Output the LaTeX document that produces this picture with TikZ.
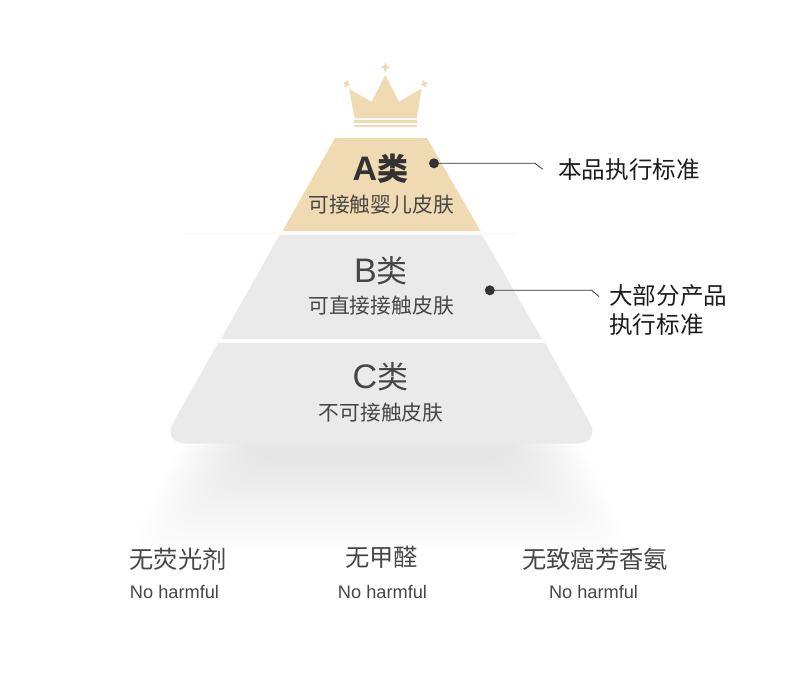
\documentclass[tikz,border=0pt]{standalone}
\usepackage{fontspec}
\setmainfont{Noto Sans CJK SC}
\newfontfamily\latinf{Liberation Sans}
\newfontfamily\latinb{Liberation Sans}[BoldFont={Liberation Sans Bold}]
\definecolor{gold}{HTML}{F0DAB2}
\definecolor{tier}{HTML}{EAEAEA}
\definecolor{ink}{HTML}{464646}
\definecolor{dark}{HTML}{333333}
\definecolor{inkk}{HTML}{1C1C1C}
\tikzset{
  x=1pt,y=-1pt,
  txt/.style={inner sep=0pt,anchor=center,text=ink},
  titlelab/.style={txt,font=\fontsize{31}{32}\selectfont},
  sublab/.style={txt,font=\fontsize{20.8}{24}\selectfont},
  sidelab/.style={txt,text=inkk,anchor=west,font=\fontsize{23.6}{29}\selectfont,align=left},
  botlab/.style={txt,font=\fontsize{24.3}{28}\selectfont},
  enlab/.style={txt,font=\latinf\fontsize{18.2}{22}\selectfont},
  dotm/.style={circle,fill=dark,draw=none,minimum size=10pt,inner sep=0pt},
  leader/.style={draw=dark,line width=0.8pt}
}
\newcommand{\sparkle}[5]{\fill[gold,shift={(#1,#2)},rotate=#5] (0,-#3) -- (#4,-#4) -- (#3*0.88,0) -- (#4,#4) -- (0,#3) -- (-#4,#4) -- (-#3*0.88,0) -- (-#4,-#4) -- cycle;}
\begin{document}
\begin{tikzpicture}
\useasboundingbox[fill=white] (0,0) rectangle (790,673);
% soft shadow
\foreach \i in {0,...,24}{
  \pgfmathsetmacro{\t}{\i/24}
  \pgfmathsetmacro{\lx}{128+\t*122}
  \pgfmathsetmacro{\rx}{634-\t*122}
  \pgfmathsetmacro{\tlx}{185+\t*65}
  \pgfmathsetmacro{\trx}{577-\t*65}
  \pgfmathsetmacro{\by}{552-\t*90}
  \fill[black,opacity=0.0037,rounded corners=30pt] (\tlx,430) -- (\trx,430) -- (\rx,\by) -- (\lx,\by) -- cycle;
}
% faint divider
\fill[gold,opacity=0.1] (183,232) rectangle (516,235);
% tiers
\fill[gold] (335,138) -- (427,138) -- (480.5,231) -- (282.5,231) -- cycle;
\fill[tier] (279.5,235) -- (482,235) -- (542,339) -- (221,339) -- cycle;
\fill[tier] (218,343) -- (545,343) [rounded corners=24pt] -- (601.5,443.5) -- (161.5,443.5) [sharp corners] -- cycle;
% crown
\fill[gold] (349,89) -- (371.7,101.7) -- (385.3,75) -- (399,101.7) -- (421.7,88.5) -- (416.7,118) -- (354.7,118) -- cycle;
\fill[gold] (354.3,120) rectangle (416.7,123.3);
\fill[gold] (354.3,125.3) rectangle (416.7,126.9);
\sparkle{385.3}{67.3}{5.4}{1.5}{0}
\sparkle{346.5}{83.8}{4}{1.5}{-20}
\sparkle{424.3}{83.8}{4}{1.5}{20}
% tier labels
\node[titlelab,text=dark] (ta) at (380.5,169) {{\latinb\bfseries\fontsize{34}{32}\selectfont A}\textbf{类}};
\node[sublab] (sa) at (381,205) {可接触婴儿皮肤};
\node[titlelab] (tb) at (381,271) {{\latinf\fontsize{34}{32}\selectfont B}类};
\node[sublab] (sb) at (381,306) {可直接接触皮肤};
\node[titlelab] (tc) at (380.5,377) {{\latinf\fontsize{34}{32}\selectfont C}类};
\node[sublab] (sc) at (381,413) {不可接触皮肤};
% leaders
\node[dotm] (da) at (434,163.3) {};
\coordinate (ka) at (535,163.3);
\coordinate (ea) at (542.7,169.3);
\draw[leader] (da.center) -- (ka) -- (ea);
\node[dotm] (db) at (489.8,290.3) {};
\coordinate (kb) at (591.7,290.3);
\coordinate (eb) at (599,296.5);
\draw[leader] (db.center) -- (kb) -- (eb);
\node[sidelab] (la) at (558,169.5) {本品执行标准};
\node[sidelab] (lb) at (609,310) {大部分产品\\执行标准};
% bottom
\node[botlab] (b1) at (178,559) {无荧光剂};
\node[botlab] (b2) at (381.5,557) {无甲醛};
\node[botlab] (b3) at (595,559) {无致癌芳香氨};
\node[enlab] (e1) at (174.5,592) {No harmful};
\node[enlab] (e2) at (382.5,592) {No harmful};
\node[enlab] (e3) at (593.5,592) {No harmful};
\end{tikzpicture}
\end{document}
